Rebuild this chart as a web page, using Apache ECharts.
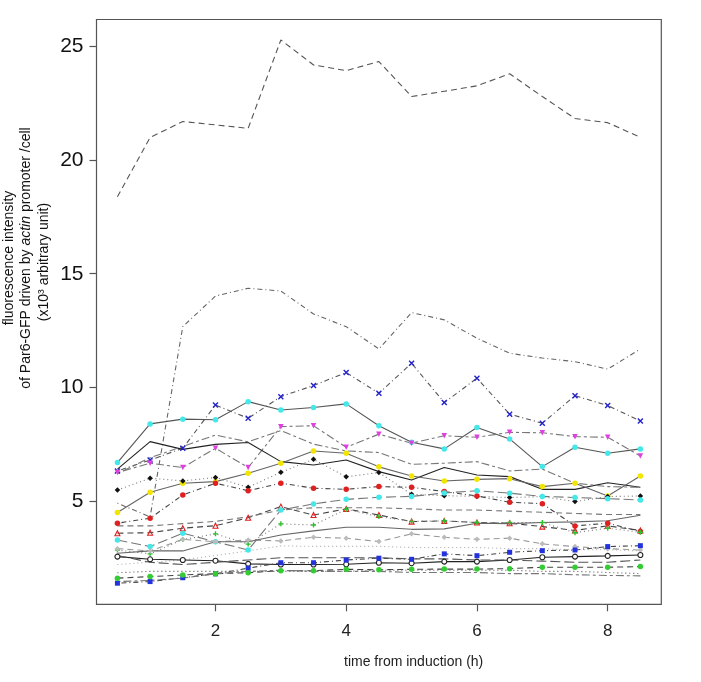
<!DOCTYPE html>
<html>
<head>
<meta charset="utf-8">
<script src="https://cdn.jsdelivr.net/npm/echarts@6/dist/echarts.min.js"></script>
<style>
html,body{margin:0;padding:0;background:#fff;}
#c{width:701px;height:682px;}
</style>
</head>
<body>
<div id="c"></div>
<script>
// time points (h)
const times = [0.5,1,1.5,2,2.5,3,3.5,4,4.5,5,5.5,6,6.5,7,7.5,8,8.5];
const xTicks = [2,4,6,8];
const yTicks = [5,10,15,20,25];

// series values (x10^3 arbitrary unit)
const sA = [18.39,21.0,21.7,21.55,21.4,25.29,24.19,23.94,24.34,22.8,23.03,23.27,23.8,22.8,21.83,21.65,21.0];
const sB = [4.9,4.3,12.67,14.02,14.36,14.24,13.23,12.67,11.69,13.29,12.97,12.16,11.5,11.29,11.13,10.8,11.69];
const sC = [6.32,6.8,7.32,9.22,8.64,9.59,10.08,10.65,9.74,11.06,9.33,10.4,8.82,8.42,9.63,9.2,8.52];
const sD = [6.69,8.39,8.6,8.57,9.37,9.0,9.11,9.27,8.31,7.58,7.29,8.23,7.73,6.51,7.36,7.1,7.29];
const sE = [6.25,6.66,6.47,7.32,6.47,8.27,8.31,7.36,7.94,7.54,7.87,7.8,8.02,8.0,7.83,7.8,6.98];
const sF = [6.4,7.61,7.27,7.49,7.57,6.73,6.58,6.8,6.29,5.92,6.47,6.14,6.07,5.51,5.51,5.8,5.6];
const sG = [6.2,6.9,7.4,7.9,7.6,8.1,7.5,7.2,7.13,6.61,6.66,6.73,6.32,6.4,5.78,5.63,5.6];
const sH = [4.49,5.38,5.78,5.85,6.22,6.66,7.2,7.1,6.5,6.1,5.88,5.95,5.98,5.63,5.78,5.22,6.1];
const sI = [5.48,6.0,5.88,6.03,5.6,6.26,6.83,6.06,6.25,5.29,5.23,5.2,5.15,5.19,4.97,5.19,5.22];
const sJ = [4.02,4.24,5.26,5.78,5.45,5.78,5.56,5.51,5.63,5.6,5.41,5.22,4.94,4.88,3.9,4.02,3.65];
const sK = [3.58,3.6,3.8,3.91,4.26,4.75,4.38,4.65,4.38,4.09,4.12,4.05,4.02,3.87,3.7,3.9,3.7];
const sL = [3.28,2.99,3.58,3.2,2.84,4.6,4.87,5.07,5.16,5.2,5.35,5.45,5.34,5.2,5.15,5.1,5.04];
const sM = [2.84,2.67,3.3,3.55,3.1,3.99,3.94,4.63,4.31,4.1,4.12,4.05,4.05,4.05,3.6,3.8,3.62];
const sN = [2.9,2.8,3.31,3.2,3.28,3.24,3.4,3.36,3.21,3.55,3.4,3.31,3.36,3.11,2.99,2.9,2.84];
const sO = [2.7,2.8,2.8,3.2,3.2,3.5,3.68,3.84,3.84,3.75,3.77,4.02,4.0,4.05,4.08,4.13,4.37];
const sP = [2.2,2.3,2.4,2.6,2.8,3.02,3.0,3.0,3.0,2.95,2.95,2.95,2.9,2.9,2.85,2.85,2.8];
const sQ = [2.55,2.43,2.4,2.37,2.23,2.2,2.2,2.21,2.28,2.26,2.33,2.33,2.4,2.52,2.55,2.58,2.62];
const sR = [1.38,1.45,1.62,1.79,2.04,2.28,2.28,2.4,2.48,2.43,2.67,2.59,2.74,2.81,2.84,2.99,3.03];
const sS = [1.6,1.67,1.74,1.8,1.84,1.93,1.93,1.99,1.97,1.99,2.0,2.0,2.02,2.08,2.08,2.08,2.11];
const sT = [1.84,1.9,1.9,1.9,1.9,1.9,1.9,1.9,1.95,1.95,1.95,1.95,1.95,1.9,1.9,1.85,1.8];
const sU = [1.45,1.5,1.6,1.8,1.9,1.95,1.9,1.9,1.9,1.85,1.85,1.85,1.8,1.8,1.75,1.72,1.7];
const sV = [3.9,3.9,4.0,4.1,4.3,4.6,4.7,4.7,4.7,4.65,4.6,4.6,4.55,4.5,4.45,4.4,4.4];
const sW = [2.6,2.3,2.2,2.3,2.4,2.5,2.5,2.5,2.5,2.45,2.45,2.4,2.4,2.35,2.3,2.3,2.4];

const DASH = [6,4], DOT = [1,3], DOTDASH = [1,3,5,3], LONG = [10,4], TWODASH = [3,3,8,3];
const xPath = 'path://M0,0L10,10M10,0L0,10';
const plusPath = 'path://M5,0L5,10M0,5L10,5';

const defs = [
  {d:sA, lc:'#555', lt:DASH},
  {d:sB, lc:'#666', lt:DOTDASH},
  {d:sC, lc:'#555', lt:DOTDASH, sym:xPath, mc:'#2222cc', stroke:true},
  {d:sD, lc:'#555', lt:'solid', sym:'circle', mc:'#44e8e8'},
  {d:sE, lc:'#777', lt:TWODASH, sym:'triangle', rot:180, mc:'#e040e0'},
  {d:sF, lc:'#222', lt:'solid'},
  {d:sG, lc:'#777', lt:TWODASH},
  {d:sH, lc:'#666', lt:'solid', sym:'circle', mc:'#f2e600'},
  {d:sI, lc:'#777', lt:DOT, sym:'diamond', mc:'#111'},
  {d:sJ, lc:'#444', lt:DOTDASH, sym:'circle', mc:'#e02020'},
  {d:sK, lc:'#444', lt:DASH, sym:'triangle', mc:'none', bc:'#e02020'},
  {d:sL, lc:'#777', lt:LONG, sym:'circle', mc:'#44e8e8'},
  {d:sM, lc:'#777', lt:DOT, sym:plusPath, mc:'#30c030', stroke:true},
  {d:sN, lc:'#999', lt:DASH, sym:'diamond', mc:'#bbbbbb'},
  {d:sO, lc:'#666', lt:'solid'},
  {d:sP, lc:'#aaa', lt:DOT},
  {d:sQ, lc:'#222', lt:'solid', sym:'circle', mc:'#fff', bc:'#222'},
  {d:sR, lc:'#444', lt:DOTDASH, sym:'rect', mc:'#2233dd'},
  {d:sS, lc:'#444', lt:DASH, sym:'circle', mc:'#33cc33'},
  {d:sT, lc:'#555', lt:DOT},
  {d:sU, lc:'#777', lt:TWODASH},
  {d:sV, lc:'#777', lt:DASH},
  {d:sW, lc:'#555', lt:LONG}
];

const series = defs.map((s, i) => {
  const o = {
    type: 'line',
    name: 's' + i,
    data: times.map((t, k) => [t, s.d[k]]),
    symbol: s.sym ? s.sym : 'none',
    symbolSize: s.sym === 'rect' ? 5 : 5.5,
    symbolRotate: s.rot || 0,
    showSymbol: !!s.sym,
    lineStyle: {color: s.lc, width: 1.1, type: s.lt},
    itemStyle: {color: s.mc || s.lc},
    animation: false,
    z: 2
  };
  if (s.stroke) {
    o.itemStyle = {color: s.mc, borderColor: s.mc, borderWidth: 1.4};
    o.symbolSize = 5;
  } else if (s.bc) {
    o.itemStyle = {color: s.mc === 'none' ? 'rgba(0,0,0,0)' : s.mc, borderColor: s.bc, borderWidth: 1.1};
    o.symbolSize = 5;
  }
  return o;
});

const chart = echarts.init(document.getElementById('c'), null, {renderer: 'canvas'});
chart.setOption({
  backgroundColor: '#fff',
  animation: false,
  grid: {left: 96.5, right: 39.7, top: 19.5, bottom: 77.7, show: true, borderColor: '#555', borderWidth: 1.2, backgroundColor: 'transparent'},
  xAxis: {
    type: 'value', min: 0.18, max: 8.82,
    axisLine: {show: false},
    splitLine: {show: false},
    axisTick: {show: true, length: 7, lineStyle: {color: '#555', width: 1.2}, customValues: xTicks},
    axisLabel: {customValues: xTicks, fontSize: 17, color: '#222', margin: 19, fontFamily: 'Liberation Sans, Arial, sans-serif'}
  },
  yAxis: {
    type: 'value', min: 0.45, max: 26.19,
    axisLine: {show: false},
    splitLine: {show: false},
    axisTick: {show: true, length: 7, lineStyle: {color: '#555', width: 1.2}, customValues: yTicks},
    axisLabel: {customValues: yTicks, fontSize: 21, color: '#111', margin: 13, fontFamily: 'Liberation Sans, Arial, sans-serif'}
  },
  graphic: [
    {type: 'text', left: 344, top: 655, style: {text: 'time from induction (h)', fontSize: 14, fill: '#222', fontFamily: 'Liberation Sans, Arial, sans-serif'}},
    {type: 'text', x: 9, y: 258, rotation: Math.PI/2, style: {text: 'fluorescence intensity', fontSize: 14, fill: '#111', align: 'center', verticalAlign: 'middle', fontFamily: 'Liberation Sans, Arial, sans-serif'}},
    {type: 'text', x: 26, y: 258, rotation: Math.PI/2, style: {
      text: '{n|of Par6-GFP driven by }{i|actin}{n| promoter /cell}', align: 'center', verticalAlign: 'middle',
      rich: {n: {fontSize: 14, fill: '#111', fontFamily: 'Liberation Sans, Arial, sans-serif'}, i: {fontSize: 14, fill: '#111', fontStyle: 'italic', fontFamily: 'Liberation Sans, Arial, sans-serif'}}
    }},
    {type: 'text', x: 44, y: 262, rotation: Math.PI/2, style: {text: '(x10³ arbitrary unit)', fontSize: 14, fill: '#111', align: 'center', verticalAlign: 'middle', fontFamily: 'Liberation Sans, Arial, sans-serif'}}
  ],
  series: series
});
</script>
</body>
</html>
